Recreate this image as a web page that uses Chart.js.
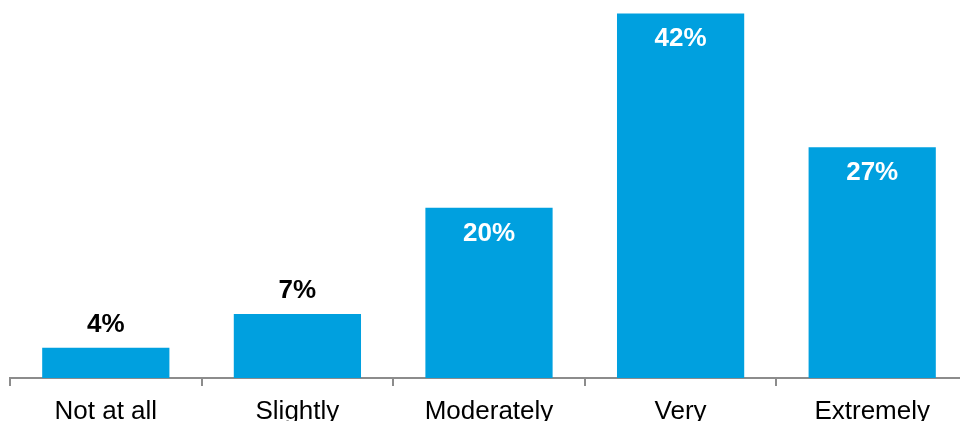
<!DOCTYPE html>
<html>
<head>
<meta charset="utf-8">
<script src="https://cdn.jsdelivr.net/npm/chart.js@4"></script>
<style>
  html, body { margin: 0; padding: 0; background: #fff; overflow: hidden; }
  #wrap { position: relative; width: 970px; height: 421px; }
</style>
</head>
<body>
<div id="wrap"><canvas id="chart"></canvas></div>
<script>
const categories = ['Not at all', 'Slightly', 'Moderately', 'Very', 'Extremely'];
const shares = [3.5, 7.4, 19.7, 42.2, 26.7];

const barColor = '#00a0df';
const axisColor = '#8c8c8c';
const fontFamily = "'Liberation Sans', Arial, sans-serif";

// value labels: black above short bars, white inside tall ones
const valueLabels = {
  id: 'valueLabels',
  afterDatasetsDraw (chart) {
    const ctx = chart.ctx;
    const meta = chart.getDatasetMeta(0);
    ctx.save();
    ctx.font = 'bold 26px ' + fontFamily;
    ctx.textAlign = 'center';
    ctx.textBaseline = 'alphabetic';
    meta.data.forEach((bar, i) => {
      const v = shares[i];
      const txt = Math.round(v) + '%';
      if (v < 10) {
        ctx.fillStyle = '#000';
        ctx.fillText(txt, bar.x, bar.y - 16);
      } else {
        ctx.fillStyle = '#fff';
        ctx.fillText(txt, bar.x, bar.y + 33);
      }
    });
    ctx.restore();
  }
};

new Chart(document.getElementById('chart'), {
  type: 'bar',
  data: {
    labels: categories,
    datasets: [{
      data: shares,
      backgroundColor: barColor,
      borderWidth: 0,
      categoryPercentage: 0.664,
      barPercentage: 1
    }]
  },
  options: {
    responsive: true,
    maintainAspectRatio: false,
    animation: false,
    layout: { padding: { left: 10, right: 2, top: 0, bottom: 0 } },
    plugins: {
      legend: { display: false },
      tooltip: { enabled: false }
    },
    scales: {
      x: {
        afterFit (scale) { scale.height = 43; },
        grid: {
          offset: true,
          drawOnChartArea: false,
          drawTicks: true,
          tickLength: 8,
          color: axisColor,
          lineWidth: 2
        },
        border: { color: axisColor, width: 2 },
        ticks: {
          color: '#000',
          padding: 10,
          maxRotation: 0,
          font: { family: fontFamily, size: 26, lineHeight: 1.2 }
        }
      },
      y: {
        display: false,
        min: 0,
        max: 43.76
      }
    }
  },
  plugins: [valueLabels]
});
</script>
</body>
</html>
